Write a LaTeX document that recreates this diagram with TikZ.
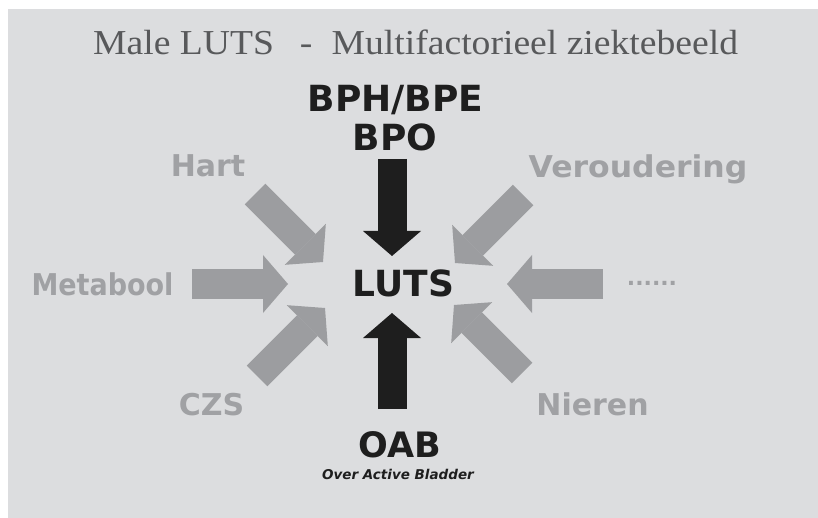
\documentclass[tikz,border=0pt]{standalone}
\usepackage{fontspec}
\usepackage{graphicx}
\setmainfont{Liberation Serif}
\setsansfont{DejaVu Sans}
\usetikzlibrary{arrows.meta}
\definecolor{panel}{RGB}{220,221,223}
\definecolor{garr}{RGB}{156,157,160}
\definecolor{gtxt}{RGB}{160,161,164}
\definecolor{btxt}{RGB}{30,30,30}
\definecolor{ttl}{RGB}{88,89,91}
\begin{document}
\begin{tikzpicture}[x=1pt,y=-1pt,
  glabel/.style={font=\sffamily\bfseries\fontsize{30}{36}\selectfont, text=gtxt, inner sep=0pt, anchor=base},
  blabel/.style={font=\sffamily\bfseries\fontsize{36}{43}\selectfont, text=btxt, inner sep=0pt, anchor=base},
  garrow/.style={draw=garr, line width=29pt, -{Triangle[length=25pt,width=58pt,line width=0pt]}},
  barrow/.style={garrow, draw=btxt}]
\useasboundingbox (0,0) rectangle (818,518);
\fill[white] (0,0) rectangle (818,518);
\fill[panel] (8,9) rectangle (818,518);
% title
\node[anchor=base west, inner sep=0pt, text=ttl, font=\fontsize{35}{42}\selectfont] (title) at (93,55)
  {\scalebox{1.075}[1]{Male LUTS\hspace{24pt}-\hspace{18pt}Multifactorieel ziektebeeld}};
% black labels
\node[blabel] (bph) at (395.5,112) {BPH/BPE};
\node[blabel] (bpo) at (395,151) {BPO};
\node[blabel] (luts) at (403.5,296) {LUTS};
\node[blabel, font=\sffamily\bfseries\fontsize{35}{42}\selectfont] (oab) at (399.5,457) {OAB};
\node[font=\sffamily\bfseries\itshape\fontsize{13.5}{16}\selectfont, text=btxt, anchor=base, inner sep=0pt] (oabfull) at (398,479.5) {Over Active Bladder};
% grey labels
\node[glabel] (hart) at (208,177) {Hart};
\node[glabel] (verou) at (638,178) {\scalebox{1.05}[1]{Veroudering}};
\node[glabel] (meta) at (102.5,295) {\scalebox{0.9}[1]{Metabool}};
\node[glabel, font=\sffamily\bfseries\fontsize{22}{26}\selectfont] (dots) at (652,285.5) {......};
\node[glabel] (czs) at (211.5,415) {CZS};
\node[glabel] (nier) at (592.5,415) {Nieren};
% arrow ends
\coordinate (bpoT) at (392,159);  \coordinate (bpoH) at (392,256);
\coordinate (oabT) at (392,409);  \coordinate (oabH) at (392,313);
\coordinate (metaT) at (192,284); \coordinate (metaH) at (288,284);
\coordinate (dotsT) at (603,284); \coordinate (dotsH) at (507,284);
\coordinate (hartT) at (255,194); \coordinate (hartH) at (323,262);
\coordinate (verT) at (523,195);  \coordinate (verH) at (455,263);
\coordinate (czsT) at (257,376);  \coordinate (czsH) at (325,308);
\coordinate (nierT) at (522,373); \coordinate (nierH) at (454,305);
% arrows
\draw[barrow] (bpoT) -- (bpoH);
\draw[barrow] (oabT) -- (oabH);
\draw[garrow] (metaT) -- (metaH);
\draw[garrow] (dotsT) -- (dotsH);
\draw[garrow] (hartT) -- (hartH);
\draw[garrow] (verT) -- (verH);
\draw[garrow] (czsT) -- (czsH);
\draw[garrow] (nierT) -- (nierH);
\end{tikzpicture}
\end{document}
